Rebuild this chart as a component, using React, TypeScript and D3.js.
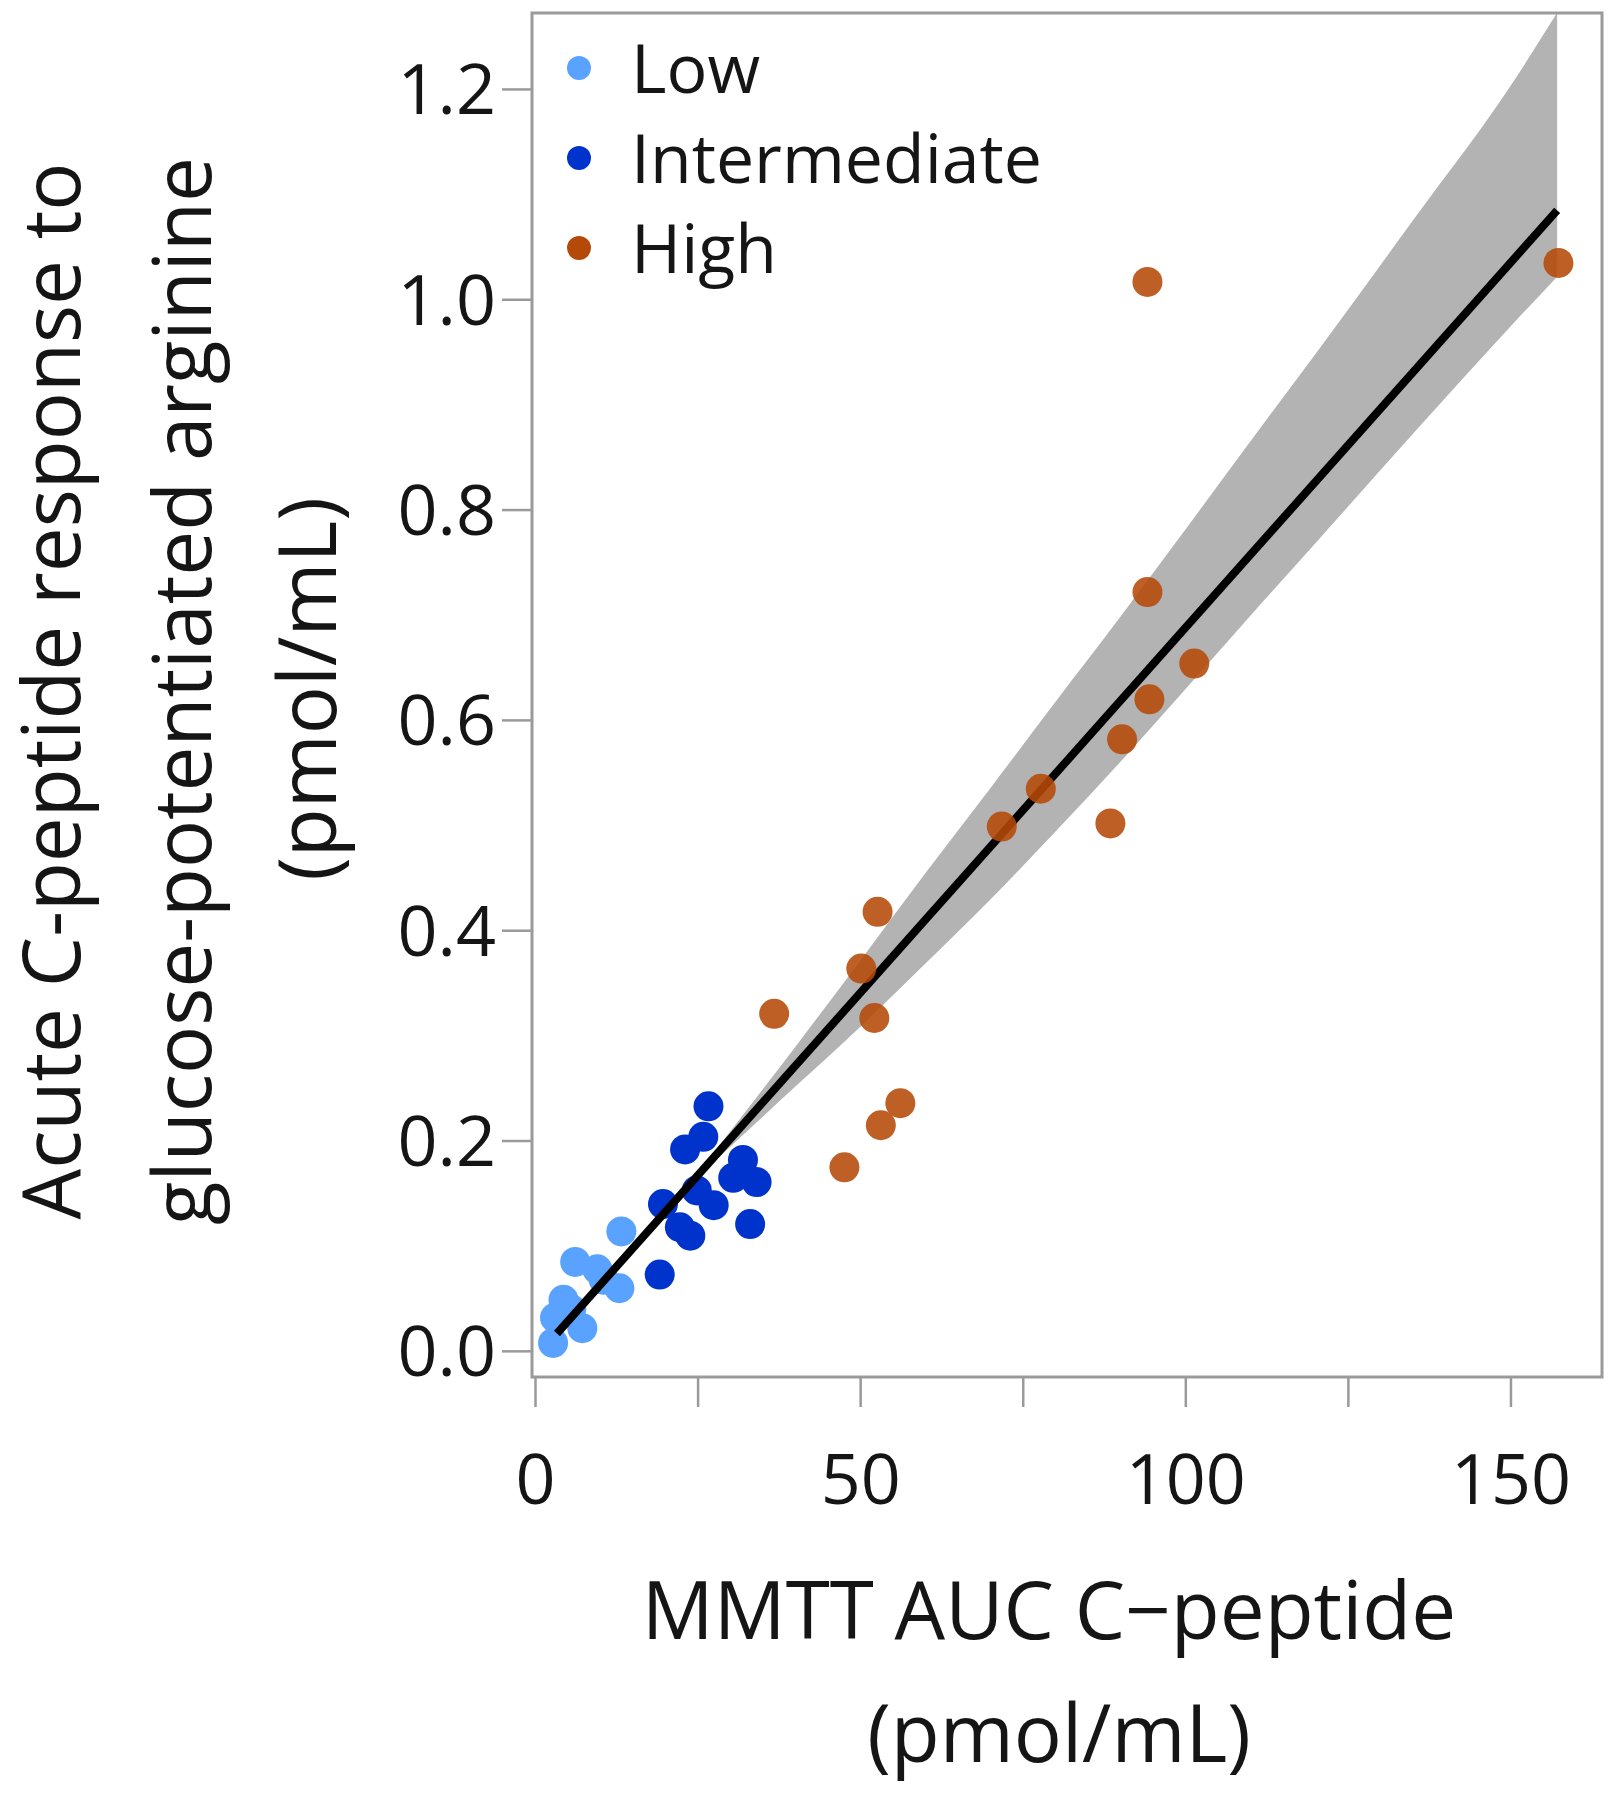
import React from "react";
import * as d3 from "d3";

const lowPts: [number, number][] = [
  [13.2, 0.114], [6.1, 0.085], [9.5, 0.078], [12.9, 0.060], [10.5, 0.068],
  [4.3, 0.049], [3.0, 0.032], [7.2, 0.022], [2.7, 0.008], [5.5, 0.040],
];
const intermediatePts: [number, number][] = [
  [26.6, 0.233], [25.8, 0.204], [23.0, 0.192], [31.9, 0.182], [30.4, 0.165],
  [34.0, 0.161], [24.8, 0.153], [19.6, 0.140], [27.4, 0.139], [22.2, 0.118],
  [23.8, 0.110], [33.0, 0.121], [19.1, 0.073],
];
const highPts: [number, number][] = [
  [157.3, 1.035], [94.1, 1.017], [94.1, 0.722], [101.3, 0.654], [94.4, 0.620],
  [90.2, 0.582], [88.4, 0.502], [77.7, 0.535], [71.7, 0.499], [52.6, 0.418],
  [50.1, 0.364], [52.1, 0.317], [36.7, 0.321], [56.1, 0.236], [53.1, 0.215],
  [47.5, 0.175],
];
const fitX = [3.3, 157.1];
const fitY = [0.017, 1.085];
const bandX = [28, 40, 50, 60, 70, 80, 90, 100, 110, 120, 135, 150, 157.1];
const bandUpper = [0.1935, 0.29, 0.372, 0.455, 0.536, 0.618, 0.699, 0.782, 0.866, 0.949, 1.076, 1.204, 1.273];
const bandLower = [0.1835, 0.252, 0.309, 0.369, 0.43, 0.4945, 0.561, 0.63, 0.7, 0.769, 0.873, 0.975, 1.022];
const xMajorTicks = [0, 50, 100, 150];
const xMinorTicks = [25, 75, 125];
const yTicks = [0, 0.2, 0.4, 0.6, 0.8, 1.0, 1.2];
const groups = ["Low", "Intermediate", "High"];
const groupColors = ["#5AA2FF", "#0033CC", "#B54A08"];

export default function App() {
  const x = d3.scaleLinear().domain([-0.54, 164.0]).range([532, 1602]);
  const y = d3.scaleLinear().domain([-0.0244, 1.2727]).range([1377, 13]);
  const font = "'Open Sans', 'Noto Sans', sans-serif";
  const axisColor = "#9a9a9a";
  const textColor = "#151515";

  const area = d3
    .area<number>()
    .x((_, i) => x(bandX[i]))
    .y0((_, i) => y(bandLower[i]))
    .y1((_, i) => y(bandUpper[i]))
    .curve(d3.curveMonotoneX);
  const line = d3
    .line<number>()
    .x((_, i) => x(fitX[i]))
    .y((_, i) => y(fitY[i]));

  const dots = (pts: [number, number][], color: string, opacity: number) =>
    pts.map((p, i) => (
      <circle key={i} cx={x(p[0])} cy={y(p[1])} r={15} fill={color} fillOpacity={opacity} />
    ));

  return (
    <svg
      width={1613}
      height={1800}
      style={{ position: "absolute", left: 0, top: 0, background: "#fff" }}
      fontFamily={font}
    >
      <rect x={0} y={0} width={1613} height={1800} fill="#fff" />
      <defs>
        <clipPath id="plotClip">
          <rect x={532} y={13} width={1070} height={1364} />
        </clipPath>
      </defs>
      <g clipPath="url(#plotClip)">
        {dots(lowPts, groupColors[0], 1)}
        {dots(intermediatePts, groupColors[1], 1)}
        <path d={area(bandX) || ""} fill="#B3B3B3" />
        <path d={line(fitX) || ""} fill="none" stroke="#000" strokeWidth={8} />
        {dots(highPts, groupColors[2], 0.88)}
      </g>
      {/* frame */}
      <rect x={532} y={13} width={1070} height={1364} fill="none" stroke={axisColor} strokeWidth={3} />
      {/* y ticks */}
      {yTicks.map((t) => (
        <g key={t}>
          <line x1={502} x2={532} y1={y(t)} y2={y(t)} stroke={axisColor} strokeWidth={2.5} />
          <text x={496} y={y(t) + 25} textAnchor="end" fontSize={70} fill={textColor}>
            {d3.format(".1f")(t)}
          </text>
        </g>
      ))}
      {/* x ticks */}
      {xMajorTicks.concat(xMinorTicks).map((t) => (
        <line key={t} x1={x(t)} x2={x(t)} y1={1377} y2={1407} stroke={axisColor} strokeWidth={2.5} />
      ))}
      {xMajorTicks.map((t) => (
        <text key={t} x={x(t)} y={1504} textAnchor="middle" fontSize={70} fill={textColor}>
          {t}
        </text>
      ))}
      {/* legend */}
      {groups.map((g, i) => (
        <g key={g}>
          <circle cx={579} cy={68 + i * 90} r={12} fill={groupColors[i]} />
          <text x={631} y={93 + i * 90} fontSize={68} fill={textColor}>
            {g}
          </text>
        </g>
      ))}
      {/* x title */}
      <text x={1049} y={1639} textAnchor="middle" fontSize={80} fill={textColor}>
        MMTT AUC C−peptide
      </text>
      <text x={1059} y={1762} textAnchor="middle" fontSize={80} fill={textColor}>
        (pmol/mL)
      </text>
      {/* y title */}
      <text transform="translate(80,691) rotate(-90)" textAnchor="middle" fontSize={80} fill={textColor}>
        Acute C-peptide response to
      </text>
      <text transform="translate(211,691) rotate(-90)" textAnchor="middle" fontSize={80} fill={textColor}>
        glucose-potentiated arginine
      </text>
      <text transform="translate(336,689) rotate(-90)" textAnchor="middle" fontSize={80} fill={textColor}>
        (pmol/mL)
      </text>
    </svg>
  );
}
